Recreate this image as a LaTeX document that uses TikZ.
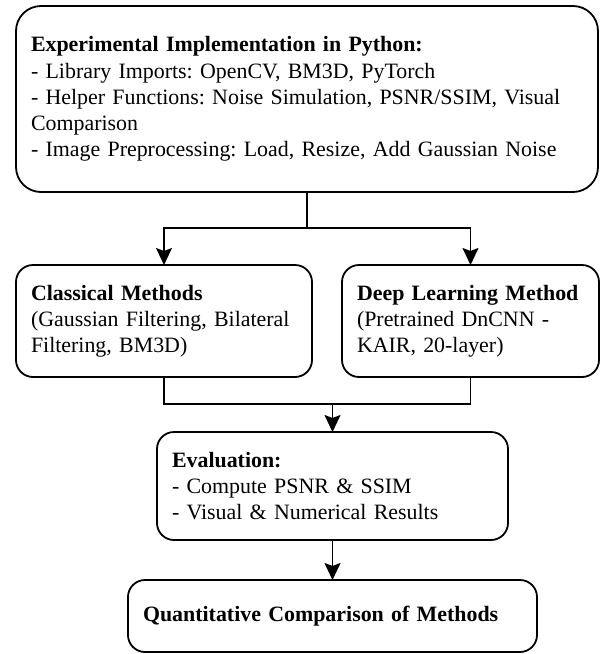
\documentclass[tikz,border=0pt]{standalone}
\usepackage{fontspec}
\setmainfont{Liberation Serif}
\frenchspacing
\usetikzlibrary{arrows.meta,calc}
\tikzset{
  boxstyle/.style={draw, line width=1.8pt, rounded corners=#1, rectangle, anchor=north west,
    inner xsep=15pt, inner ysep=0pt, outer sep=0pt, align=left,
    font=\fontsize{21.9}{26.2}\selectfont},
  conn/.style={line width=1.8pt},
  arr/.style={line width=1.8pt, -{Stealth[length=17pt,width=16pt,inset=3pt]}},
}
\begin{document}
\begin{tikzpicture}[x=1pt,y=-1pt]
\useasboundingbox (0,0) rectangle (600,654);
\node[boxstyle=25pt, minimum width=582pt, minimum height=186pt, text width=552pt] (top) at (16,6)
 {\textbf{Experimental Implementation in Python:}\\
  - Library Imports: OpenCV, BM3D, PyTorch\\
  - Helper Functions: Noise Simulation, PSNR/SSIM, Visual\\
  Comparison\\
  - Image Preprocessing: Load, Resize, Add Gaussian Noise};
\node[boxstyle=17pt, minimum width=296pt, minimum height=112pt, text width=266pt] (left) at (16,265)
 {\textbf{Classical Methods}\\
  (Gaussian Filtering, Bilateral\\
  Filtering, BM3D)};
\node[boxstyle=17pt, minimum width=257pt, minimum height=112pt, text width=227pt] (right) at (342,265)
 {\textbf{Deep Learning Method}\\
  (Pretrained DnCNN -\\
  KAIR, 20-layer)};
\node[boxstyle=17pt, minimum width=351pt, minimum height=108pt, text width=321pt] (eval) at (157,432)
 {\textbf{Evaluation:}\\
  - Compute PSNR \& SSIM\\
  - Visual \& Numerical Results};
\node[boxstyle=17pt, minimum width=409pt, minimum height=72pt, text width=379pt] (final) at (128,580)
 {\textbf{Quantitative Comparison of Methods}};
\coordinate (split) at ($(top.south)+(0,36)$);
\coordinate (merge) at ($(eval.north)+(0,-28)$);
\draw[conn] (top.south) -- (split);
\draw[arr] (split) -| (left.north);
\draw[arr] (split) -| (right.north);
\draw[conn] (left.south) |- (merge);
\draw[conn] (right.south) |- (merge);
\draw[arr] (merge) -- (eval.north);
\draw[arr] (eval.south) -- (final.north);
\end{tikzpicture}
\end{document}
